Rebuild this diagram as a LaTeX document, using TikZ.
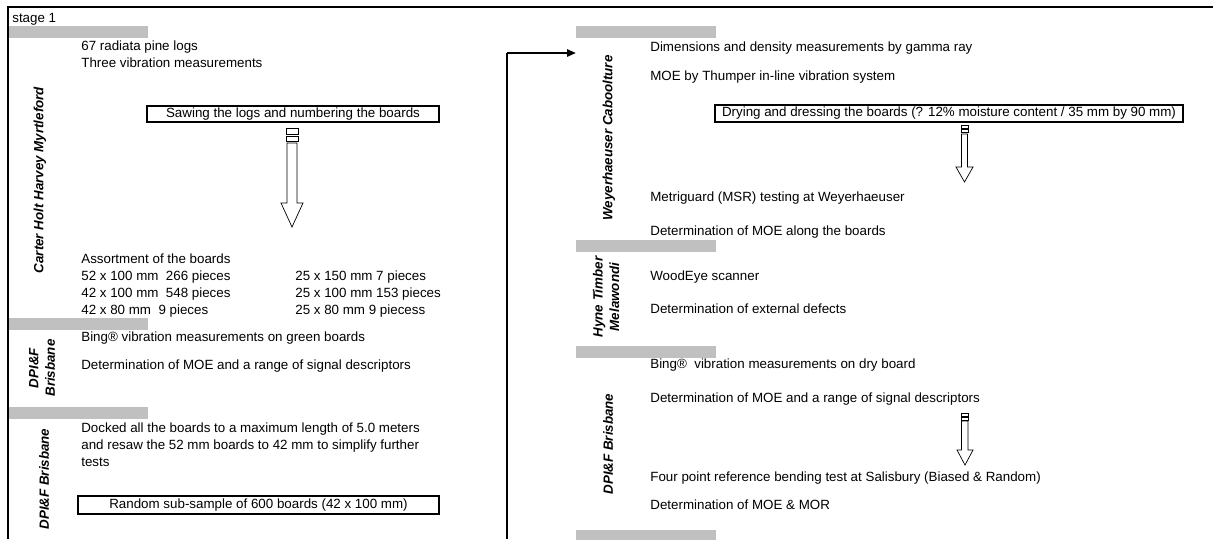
\documentclass[tikz,border=0pt]{standalone}
\usepackage{fontspec}
\setmainfont{Liberation Sans}
\usetikzlibrary{arrows.meta, positioning}
\definecolor{bargray}{RGB}{192,192,192}

\begin{document}
\begin{tikzpicture}[x=0.02cm, y=-0.02cm,
    txt/.style={anchor=base west, inner sep=0pt, align=left, font=\fontsize{7.6}{9.6}\selectfont},
    site/.style={rotate=90, inner sep=0pt, align=center, font=\fontsize{7.6}{9.4}\selectfont\bfseries\itshape},
    stepbox/.style={rectangle, draw, line width=1.1pt, inner sep=0pt, font=\fontsize{7.6}{9.6}\selectfont},
    bar/.style={fill=bargray},
    blockarrow/.style={draw, line width=0.4pt, fill=white}
 ]
\useasboundingbox (0,0) rectangle (1213,539);

% frame and grey separators
\draw[line width=1.5pt] (1213,7) -- (8,7) -- (8,539);
\foreach \y in {26,318,407} \fill[bar] (9,\y) rectangle +(139,11.5);
\foreach \y in {26,240,346,530} \fill[bar] (576,\y) rectangle +(140,11.5);

\node[txt] (StageOne) at (12,22.5) {stage 1};

% Carter Holt Harvey (multi-line nodes sit on their last baseline)
\node[site] (CHH) at (40,180) {Carter Holt Harvey Myrtleford};
\node[txt] (PineLogs) at (81,67.3) {67 radiata pine logs\\Three vibration measurements};
\node[stepbox, minimum width=5.84cm, minimum height=0.32cm] (Sawing) at (293,114) {Sawing the logs and numbering the boards};
\draw[blockarrow] (286,128) rectangle (298.5,134);
\draw[blockarrow] (286,136) rectangle (298.5,141.5);
\draw[blockarrow] (287,143) -- (287,203) -- (281,203) -- (292,227) -- (303,203) -- (297,203) -- (297,143) -- cycle;
\node[txt] (Assort) at (81,314) {Assortment of the boards\\52 x 100 mm\ \ 266 pieces\\42 x 100 mm\ \ 548 pieces\\42 x 80 mm\ \ 9 pieces};
\node[txt] (AssortB) at (295,314) {25 x 150 mm 7 pieces\\25 x 100 mm 153 pieces\\25 x 80 mm 9 piecess};

% DPI&F green
\node[site] (DPIGreen) at (42,368) {DPI\&F\\Brisbane};
\node[txt] (BingGreen) at (81,341.7) {Bing® vibration measurements on green boards};
\node[txt] (MOEGreen) at (81,369) {Determination of MOE and a range of signal descriptors};

% DPI&F docking
\node[site] (DPIDock) at (44,479) {DPI\&F Brisbane};
\node[txt] (Docked) at (81,466) {Docked all the boards to a maximum length of 5.0 meters\\and resaw the 52 mm boards to 42 mm to simplify further\\tests};
\node[stepbox, minimum width=7.22cm, minimum height=0.36cm] (SubSample) at (258.5,505) {Random sub-sample of 600 boards (42 x 100 mm)};

% link to second column
\coordinate (LoopBottom) at (507,539);
\coordinate (LoopTop) at (507,53);
\coordinate (WeyIn) at (576,53);
\draw[line width=0.6pt] (LoopBottom) -- (LoopTop);
\draw[line width=1.2pt, -{Triangle[length=5pt,width=4pt]}] (LoopTop) -- (WeyIn);

% Weyerhaeuser
\node[site] (Wey) at (609,138) {Weyerhaeuser Caboolture};
\node[txt] (Gamma) at (650,51) {Dimensions and density measurements by gamma ray};
\node[txt] (Thumper) at (650,80) {MOE by Thumper in-line vibration system};
\node[stepbox, minimum width=9.36cm, minimum height=0.34cm] (Drying) at (949,113.5) {Drying and dressing the boards (? 12\% moisture content / 35 mm by 90 mm)};
\draw[blockarrow] (961,125) rectangle (968,128);
\draw[blockarrow] (961,129.5) rectangle (968,132.5);
\draw[blockarrow] (961.5,134) -- (961.5,167) -- (956,167) -- (964.5,182) -- (973,167) -- (967.5,167) -- (967.5,134) -- cycle;
\node[txt] (Metriguard) at (650,201.7) {Metriguard (MSR) testing at Weyerhaeuser};
\node[txt] (MOEAlong) at (650,235) {Determination of MOE along the boards};

% Hyne Timber
\node[site] (Hyne) at (606,297) {Hyne Timber\\Melawondi};
\node[txt] (WoodEye) at (650,280) {WoodEye scanner};
\node[txt] (Defects) at (650,313) {Determination of external defects};

% DPI&F dry
\node[site] (DPIDry) at (608,444) {DPI\&F Brisbane};
\node[txt] (BingDry) at (650,368) {Bing® \ vibration measurements on dry board};
\node[txt] (MOEDry) at (650,402.7) {Determination of MOE and a range of signal descriptors};
\draw[blockarrow] (961,413) rectangle (968,416);
\draw[blockarrow] (961,417) rectangle (968,420);
\draw[blockarrow] (961.5,421) -- (961.5,450) -- (957,450) -- (965,465) -- (973,450) -- (968,450) -- (968,421) -- cycle;
\node[txt] (Bending) at (650,481.7) {Four point reference bending test at Salisbury (Biased \& Random)};
\node[txt] (MOEMOR) at (650,509) {Determination of MOE \& MOR};

\end{tikzpicture}
\end{document}
